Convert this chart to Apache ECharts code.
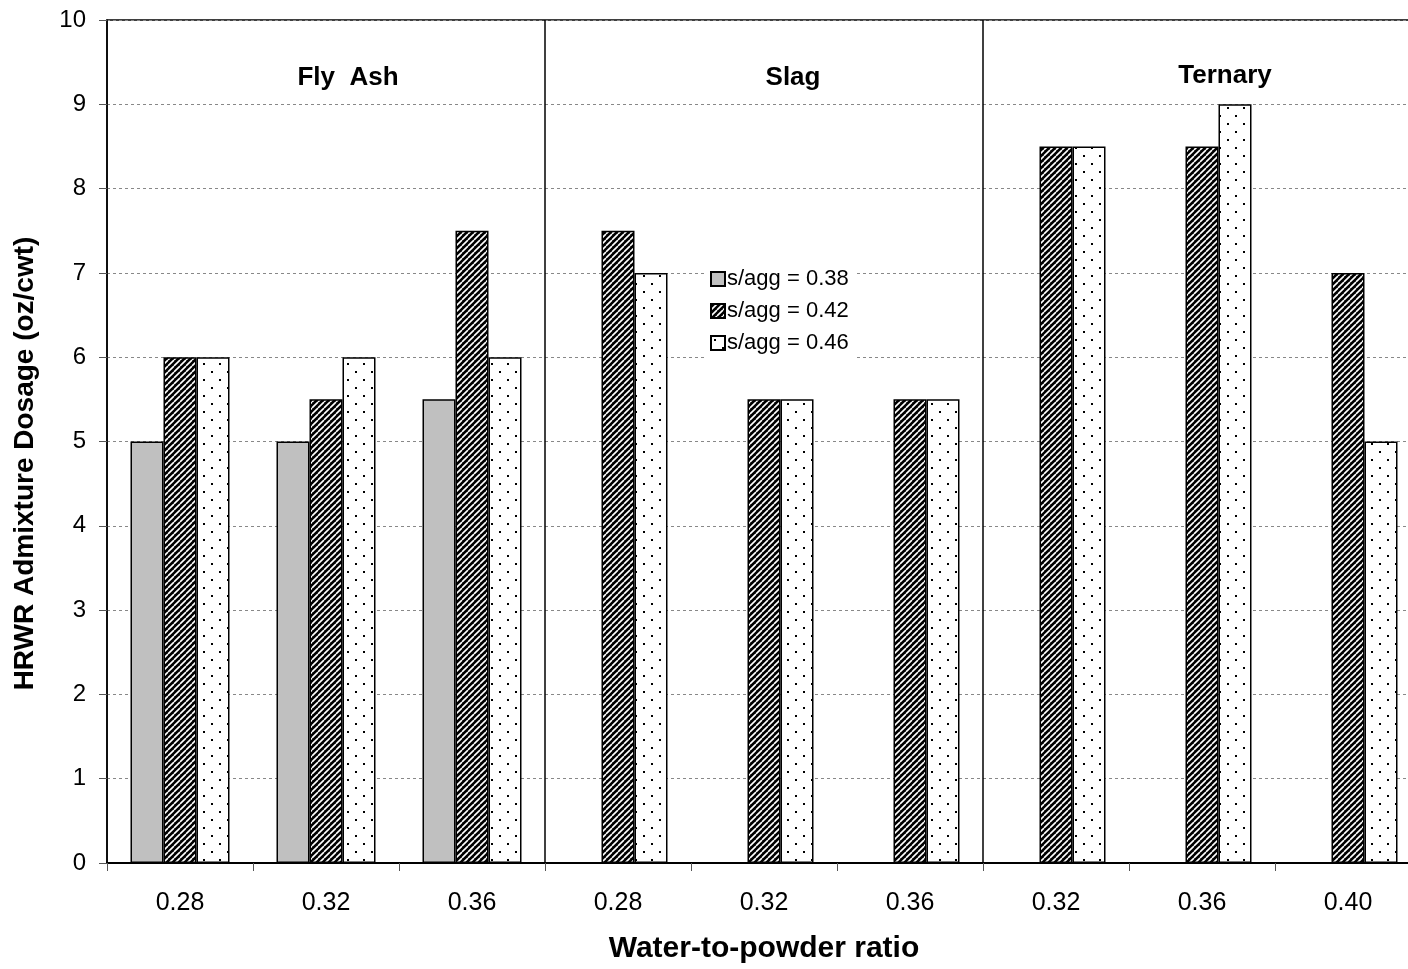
<!DOCTYPE html>
<html>
<head>
<meta charset="utf-8">
<script src="https://cdn.jsdelivr.net/npm/echarts@6/dist/echarts.min.js"></script>
<style>
  html, body { margin: 0; padding: 0; background: #fff; }
  #chart { width: 1408px; height: 969px; }
</style>
</head>
<body>
<div id="chart"></div>
<script>
// Binder groups and the water-to-powder ratios tested in each
const groups = ['Fly  Ash', 'Slag', 'Ternary'];
const ratios = [
  ['0.28', '0.32', '0.36'],
  ['0.28', '0.32', '0.36'],
  ['0.32', '0.36', '0.40']
];
const yTicks = [0, 1, 2, 3, 4, 5, 6, 7, 8, 9, 10];

// HRWR dosage (oz/cwt) per sand-to-aggregate ratio, in category order
const seriesNames = ['s/agg = 0.38', 's/agg = 0.42', 's/agg = 0.46'];
const sagg038 = [5, 5, 5.5, null, null, null, null, null, null];
const sagg042 = [6, 5.5, 7.5, 7.5, 5.5, 5.5, 8.5, 8.5, 7];
const sagg046 = [6, 6, 6, 7, 5.5, 5.5, 8.5, 9, 5];

// unique category keys; the label shows only the ratio
const categories = [];
groups.forEach((g, gi) => ratios[gi].forEach(r => categories.push(g + '|' + r)));

function hatchPattern() {
  const c = document.createElement('canvas');
  c.width = 6; c.height = 6;
  const ctx = c.getContext('2d');
  ctx.fillStyle = '#000';
  ctx.fillRect(0, 0, 6, 6);
  ctx.strokeStyle = '#fff';
  ctx.lineWidth = 1.6;
  ctx.beginPath();
  for (let k = -6; k <= 12; k += 6) {
    ctx.moveTo(k, 6);
    ctx.lineTo(k + 6, 0);
  }
  ctx.stroke();
  return c;
}

function dotPattern() {
  const c = document.createElement('canvas');
  c.width = 16; c.height = 16;
  const ctx = c.getContext('2d');
  ctx.fillStyle = '#fff';
  ctx.fillRect(0, 0, 16, 16);
  ctx.fillStyle = '#000';
  ctx.fillRect(3, 3, 2, 2);
  ctx.fillRect(11, 11, 2, 2);
  return c;
}

const fills = [
  '#c0c0c0',
  { image: hatchPattern(), repeat: 'repeat' },
  { image: dotPattern(), repeat: 'repeat' }
];
const values = [sagg038, sagg042, sagg046];

const chart = echarts.init(document.getElementById('chart'), null, { renderer: 'canvas' });

const font = 'Liberation Sans, Arial, sans-serif';

// group headings sit near the top of each section
const headingPos = [[348, 78], [793, 78], [1225, 76]];

chart.setOption({
  animation: false,
  backgroundColor: '#fff',
  textStyle: { fontFamily: font },
  grid: {
    left: 107, top: 20, bottom: 106, right: -13,
    outerBoundsMode: 'none',
    containLabel: false,
    show: true, borderColor: '#000', borderWidth: 1.5, backgroundColor: 'transparent'
  },
  legend: {
    orient: 'vertical',
    left: 706, top: 264,
    itemWidth: 14, itemHeight: 14, itemGap: 10,
    padding: [4, 6, 4, 4],
    backgroundColor: '#fff',
    icon: 'rect',
    textStyle: { fontSize: 22, color: '#000', fontFamily: font, padding: [0, 0, 0, -3] },
    data: seriesNames
  },
  xAxis: {
    type: 'category',
    data: categories,
    name: 'Water-to-powder ratio',
    nameLocation: 'middle',
    nameGap: 71,
    nameTextStyle: { fontSize: 30, fontWeight: 'bold', color: '#000' },
    axisLine: { lineStyle: { color: '#000', width: 2 } },
    axisTick: { show: true, length: 8, lineStyle: { color: '#555', width: 1 } },
    axisLabel: {
      fontSize: 25, color: '#000', margin: 28,
      formatter: v => v.split('|')[1]
    },
    splitLine: {
      show: true,
      interval: (idx) => idx === 3 || idx === 6,
      lineStyle: { color: '#000', width: 1.5, type: 'solid' }
    }
  },
  yAxis: {
    type: 'value',
    min: yTicks[0], max: yTicks[yTicks.length - 1], interval: 1,
    name: 'HRWR Admixture Dosage (oz/cwt)',
    nameLocation: 'middle',
    nameGap: 68,
    nameTextStyle: { fontSize: 28, fontWeight: 'bold', color: '#000', padding: [0, 44, 0, 0] },
    axisLine: { show: true, lineStyle: { color: '#000', width: 1.5 } },
    axisTick: { show: true, length: 8, lineStyle: { color: '#555', width: 1 } },
    axisLabel: { fontSize: 24, color: '#000', margin: 21 },
    splitLine: {
      show: true,
      lineStyle: { color: '#888', width: 1, type: [3, 3] }
    }
  },
  series: seriesNames.map((name, i) => ({
    name,
    type: 'bar',
    data: values[i],
    barWidth: 33,
    barGap: '0%',
    itemStyle: { color: fills[i], borderColor: '#000', borderWidth: 1.5 },
    emphasis: { disabled: true }
  })),
  graphic: groups.map((g, i) => ({
    type: 'text',
    x: headingPos[i][0],
    y: headingPos[i][1],
    style: {
      text: g, fontSize: 26, fontWeight: 'bold', fill: '#000', fontFamily: font,
      align: 'center', verticalAlign: 'middle'
    }
  }))
});
</script>
</body>
</html>
